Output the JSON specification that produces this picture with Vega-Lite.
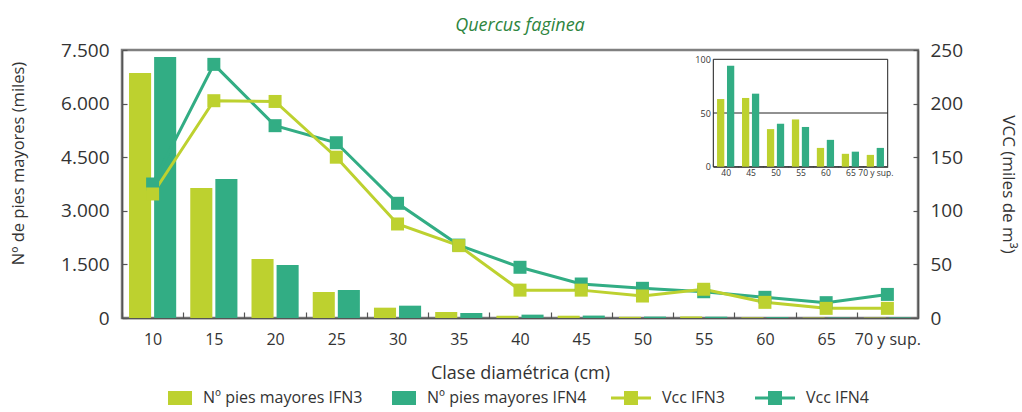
{
  "$schema": "https://vega.github.io/schema/vega-lite/v6.json",
  "width": 796,
  "height": 268,
  "autosize": {"type": "none"},
  "padding": {"left": 122, "top": 50, "right": 104, "bottom": 94},
  "background": "white",
  "title": {
    "text": "Quercus faginea",
    "font": "Open Sans",
    "fontStyle": "italic",
    "fontWeight": "normal",
    "fontSize": 18,
    "color": "#2E8540",
    "anchor": "middle",
    "frame": "group",
    "offset": 6
  },
  "datasets": {
    "pies": [
      {"clase": "10", "serie": "Nº pies mayores IFN3", "miles": 6856},
      {"clase": "10", "serie": "Nº pies mayores IFN4", "miles": 7304},
      {"clase": "15", "serie": "Nº pies mayores IFN3", "miles": 3638},
      {"clase": "15", "serie": "Nº pies mayores IFN4", "miles": 3890},
      {"clase": "20", "serie": "Nº pies mayores IFN3", "miles": 1651},
      {"clase": "20", "serie": "Nº pies mayores IFN4", "miles": 1483},
      {"clase": "25", "serie": "Nº pies mayores IFN3", "miles": 728},
      {"clase": "25", "serie": "Nº pies mayores IFN4", "miles": 784},
      {"clase": "30", "serie": "Nº pies mayores IFN3", "miles": 289},
      {"clase": "30", "serie": "Nº pies mayores IFN4", "miles": 345},
      {"clase": "35", "serie": "Nº pies mayores IFN3", "miles": 168},
      {"clase": "35", "serie": "Nº pies mayores IFN4", "miles": 140},
      {"clase": "40", "serie": "Nº pies mayores IFN3", "miles": 63},
      {"clase": "40", "serie": "Nº pies mayores IFN4", "miles": 94},
      {"clase": "45", "serie": "Nº pies mayores IFN3", "miles": 64},
      {"clase": "45", "serie": "Nº pies mayores IFN4", "miles": 68},
      {"clase": "50", "serie": "Nº pies mayores IFN3", "miles": 35},
      {"clase": "50", "serie": "Nº pies mayores IFN4", "miles": 40},
      {"clase": "55", "serie": "Nº pies mayores IFN3", "miles": 44},
      {"clase": "55", "serie": "Nº pies mayores IFN4", "miles": 37},
      {"clase": "60", "serie": "Nº pies mayores IFN3", "miles": 17.5},
      {"clase": "60", "serie": "Nº pies mayores IFN4", "miles": 25},
      {"clase": "65", "serie": "Nº pies mayores IFN3", "miles": 12},
      {"clase": "65", "serie": "Nº pies mayores IFN4", "miles": 14},
      {"clase": "70 y sup.", "serie": "Nº pies mayores IFN3", "miles": 11},
      {"clase": "70 y sup.", "serie": "Nº pies mayores IFN4", "miles": 17.5}
    ],
    "vcc": [
      {"clase": "10", "serie": "Vcc IFN4", "vcc": 125},
      {"clase": "15", "serie": "Vcc IFN4", "vcc": 236.6},
      {"clase": "20", "serie": "Vcc IFN4", "vcc": 179.4},
      {"clase": "25", "serie": "Vcc IFN4", "vcc": 163.5},
      {"clase": "30", "serie": "Vcc IFN4", "vcc": 107},
      {"clase": "35", "serie": "Vcc IFN4", "vcc": 68},
      {"clase": "40", "serie": "Vcc IFN4", "vcc": 47.3},
      {"clase": "45", "serie": "Vcc IFN4", "vcc": 31.7},
      {"clase": "50", "serie": "Vcc IFN4", "vcc": 27.7},
      {"clase": "55", "serie": "Vcc IFN4", "vcc": 24.5},
      {"clase": "60", "serie": "Vcc IFN4", "vcc": 19.3},
      {"clase": "65", "serie": "Vcc IFN4", "vcc": 14.3},
      {"clase": "70 y sup.", "serie": "Vcc IFN4", "vcc": 22},
      {"clase": "10", "serie": "Vcc IFN3", "vcc": 115.7},
      {"clase": "15", "serie": "Vcc IFN3", "vcc": 202.7},
      {"clase": "20", "serie": "Vcc IFN3", "vcc": 202},
      {"clase": "25", "serie": "Vcc IFN3", "vcc": 150},
      {"clase": "30", "serie": "Vcc IFN3", "vcc": 87.7},
      {"clase": "35", "serie": "Vcc IFN3", "vcc": 67.5},
      {"clase": "40", "serie": "Vcc IFN3", "vcc": 26},
      {"clase": "45", "serie": "Vcc IFN3", "vcc": 26},
      {"clase": "50", "serie": "Vcc IFN3", "vcc": 20.5},
      {"clase": "55", "serie": "Vcc IFN3", "vcc": 26.8},
      {"clase": "60", "serie": "Vcc IFN3", "vcc": 14.6},
      {"clase": "65", "serie": "Vcc IFN3", "vcc": 9},
      {"clase": "70 y sup.", "serie": "Vcc IFN3", "vcc": 9}
    ]
  },
  "layer": [
    {
      "layer": [
        {
          "data": {"name": "pies"},
          "mark": {"type": "bar"},
          "encoding": {
            "x": {
              "field": "clase", "type": "nominal",
              "scale": {"domain": ["10","15","20","25","30","35","40","45","50","55","60","65","70 y sup."], "paddingInner": 0.23, "paddingOuter": 0.115},
              "title": "Clase diamétrica (cm)",
              "axis": {
                "orient": "bottom", "labelAngle": 0, "bandPosition": 0,
                "tickOffset": -7.04, "labelOffset": 7.04, "tickSize": -6,
                "labelPadding": 19, "labelFontSize": 16, "titleFontSize": 18,
                "titlePadding": 17, "labelOverlap": false, "labelBound": false
              }
            },
            "xOffset": {"field": "serie", "type": "nominal", "scale": {"paddingInner": 0.12, "paddingOuter": 0}},
            "y": {
              "field": "miles", "type": "quantitative",
              "scale": {"domain": [0, 7500]},
              "title": "Nº de pies mayores (miles)",
              "axis": {
                "orient": "left", "values": [0,1500,3000,4500,6000,7500],
                "labelExpr": "replace(format(datum.value, ','), ',', '.')",
                "tickSize": -5, "labelPadding": 18, "labelFontSize": 19,
                "titleFontSize": 16.5, "titlePadding": 34, "titleY": 113, "grid": false
              }
            },
            "color": {
              "field": "serie", "type": "nominal",
              "scale": {"domain": ["Nº pies mayores IFN3", "Nº pies mayores IFN4"], "range": ["#BDD12F", "#32AD84"]},
              "legend": {"title": null, "orient": "none", "legendX": 35, "legendY": 328, "direction": "horizontal", "symbolType": "M-0.45,-0.35H0.75V0.35H-0.45Z", "symbolSize": 1600, "symbolStrokeWidth": 0, "labelOffset": 6, "columnPadding": 18}
            }
          }
        },
        {
          "data": {"name": "vcc"},
          "mark": {"type": "line", "strokeWidth": 3},
          "encoding": {
            "x": {"field": "clase", "type": "nominal"},
            "y": {"field": "vcc", "type": "quantitative", "scale": {"domain": [0, 250]}, "axis": null},
            "stroke": {
              "field": "serie", "type": "nominal",
              "scale": {"domain": ["Vcc IFN3", "Vcc IFN4"], "range": ["#BDD12F", "#32AD84"]},
              "legend": null
            }
          }
        },
        {
          "data": {"name": "vcc"},
          "mark": {"type": "point", "shape": "square", "filled": true, "size": 169, "opacity": 1},
          "encoding": {
            "x": {"field": "clase", "type": "nominal"},
            "y": {
              "field": "vcc", "type": "quantitative",
              "scale": {"domain": [0, 250]},
              "title": "VCC (miles de m³)",
              "axis": {
                "orient": "right", "values": [0,50,100,150,200,250],
                "tickSize": -5, "labelPadding": 17, "labelFontSize": 19,
                "titleFontSize": 17, "titlePadding": 36, "grid": false
              }
            },
            "color": {
              "field": "serie", "type": "nominal",
              "scale": {"domain": ["Vcc IFN3", "Vcc IFN4"], "range": ["#BDD12F", "#32AD84"]},
              "legend": {"title": null, "orient": "none", "legendX": 489, "legendY": 328, "direction": "horizontal", "symbolType": "M-1,-0.075H1V0.075H-1Z M-0.35,-0.35H0.35V0.35H-0.35Z", "symbolSize": 1600, "symbolStrokeWidth": 0, "labelOffset": 11, "columnPadding": 30}
            }
          }
        }
      ],
      "resolve": {"scale": {"y": "independent", "color": "independent"}}
    },
    {
      "layer": [
        {
          "data": {"values": [{}]},
          "layer": [
            {
              "mark": {"type": "rect", "fill": "white", "stroke": "#222", "strokeWidth": 1},
              "encoding": {
                "x": {"datum": 0, "type": "quantitative", "scale": {"domain": [0, 1], "range": [591.3, 765.7]}, "axis": null},
                "x2": {"datum": 1},
                "y": {"datum": 0, "type": "quantitative"},
                "y2": {"datum": 100}
              }
            },
            {
              "mark": {"type": "rule", "color": "#222", "strokeWidth": 1},
              "encoding": {
                "x": {"datum": 0, "type": "quantitative", "axis": null},
                "x2": {"datum": 1},
                "y": {"datum": 50, "type": "quantitative"}
              }
            }
          ]
        },
        {
          "data": {"name": "pies"},
          "transform": [{"filter": {"field": "clase", "oneOf": ["40","45","50","55","60","65","70 y sup."]}}],
          "mark": {"type": "bar"},
          "encoding": {
            "x": {
              "field": "clase", "type": "nominal",
              "scale": {"domain": ["40","45","50","55","60","65","70 y sup."], "range": [591.3, 765.7], "paddingInner": 0.31, "paddingOuter": 0.15},
              "title": null,
              "axis": {
                "orient": "bottom", "offset": -151.3, "labelAngle": 0, "bandPosition": 0,
                "tickOffset": -3.88, "labelOffset": 3.88, "tickSize": -3,
                "labelPadding": 5, "labelFontSize": 8.5, "labelOverlap": false, "labelBound": false,
                "domainColor": "#222", "tickColor": "#222", "domainWidth": 1
              }
            },
            "xOffset": {"field": "serie", "type": "nominal", "scale": {"paddingInner": 0.27, "paddingOuter": 0}},
            "y": {
              "field": "miles", "type": "quantitative",
              "scale": {"domain": [0, 100], "range": [116.7, 9.3]},
              "title": null,
              "axis": {
                "orient": "left", "offset": -591.3, "values": [0, 50, 100],
                "tickSize": 0, "labelPadding": 3, "labelFontSize": 9, "grid": false,
                "domainColor": "#222", "domainWidth": 1
              }
            },
            "fill": {
              "field": "serie", "type": "nominal",
              "scale": {"domain": ["Nº pies mayores IFN3", "Nº pies mayores IFN4"], "range": ["#BDD12F", "#32AD84"]},
              "legend": null
            }
          }
        }
      ],
      "resolve": {"scale": {"x": "independent", "xOffset": "independent"}}
    }
  ],
  "resolve": {"scale": {"x": "independent", "xOffset": "independent", "y": "independent", "color": "independent"}},
  "config": {
    "font": "Open Sans",
    "view": {"stroke": "#808080", "strokeWidth": 2.5},
    "axis": {
      "labelFont": "Open Sans", "titleFont": "Open Sans",
      "labelColor": "#333", "titleColor": "#333", "titleFontWeight": "normal",
      "domainColor": "#555", "tickColor": "#555", "domainWidth": 1.5, "tickWidth": 1.2
    },
    "legend": {
      "labelFont": "Open Sans", "labelFontSize": 16, "labelColor": "#333"
    }
  }
}
